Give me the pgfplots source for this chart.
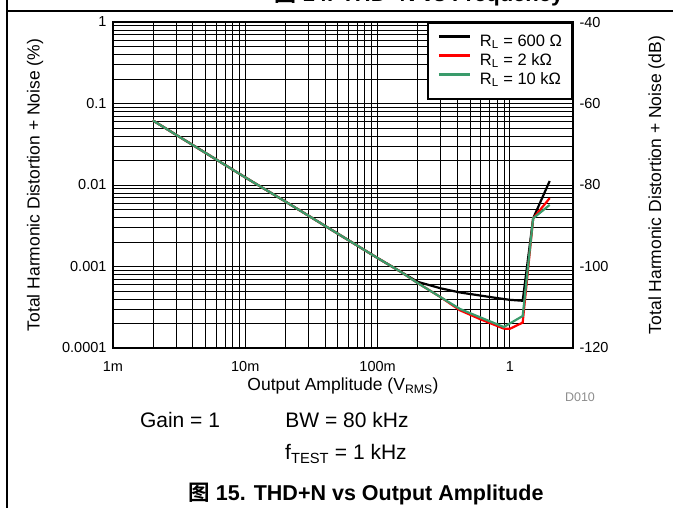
\documentclass[border=0pt]{standalone}
\usepackage{pgfplots}
\pgfplotsset{compat=1.18}
\usepackage{fontspec}
\setmainfont{Liberation Sans}
\newfontfamily\cjk{Noto Sans CJK SC}[BoldFont={Noto Sans CJK SC Bold}]
\definecolor{tigreen}{RGB}{58,155,107}
\definecolor{tired}{RGB}{255,0,0}

\pgfplotstableread{
x y
0.002 0.062
0.005 0.0248
0.01 0.0124
0.02 0.0063
0.05 0.00253
0.1 0.00127
0.15 0.00086
0.2 0.00065
0.3 0.00054
0.42 0.00048
0.6 0.00044
0.8 0.00041
1.0 0.00039
1.25 0.00038
1.5 0.0039
2.0 0.0112
}\blackdata
\pgfplotstableread{
x y
0.002 0.062
0.005 0.0248
0.01 0.0124
0.02 0.0063
0.05 0.00253
0.1 0.00127
0.15 0.00086
0.2 0.00063
0.3 0.00042
0.42 0.00029
0.6 0.000225
0.9 0.000173
1.0 0.000172
1.25 0.000205
1.5 0.0039
2.0 0.0069
}\reddata
\pgfplotstableread{
x y
0.002 0.062
0.005 0.0248
0.01 0.0124
0.02 0.0063
0.05 0.00253
0.1 0.00127
0.15 0.00086
0.2 0.00063
0.3 0.00042
0.42 0.000301
0.6 0.000237
0.9 0.000181
1.25 0.000247
1.5 0.0039
2.0 0.0057
}\greendata

\begin{document}
\begin{tikzpicture}
\useasboundingbox (0pt,0pt) rectangle (673pt,-508pt);
\draw[line width=1.5pt] (7pt,0pt) -- (7pt,-508pt);
\draw[line width=1.5pt] (7pt,-11pt) -- (673pt,-11pt);
\node[anchor=base, font=\fontsize{22}{24}\selectfont\bfseries, inner sep=0pt] at (419pt,-2pt) {{\cjk 图} 14. THD+N vs Frequency};

\begin{axis}[
  at={(113pt,-348pt)}, anchor=south west,
  width=460pt, height=326pt, scale only axis,
  xmode=log, ymode=log,
  xmin=0.001, xmax=3, ymin=0.0001, ymax=1,
  xtick={0.001,0.01,0.1,1}, xticklabels={1m,10m,100m,1},
  ytick={0.0001,0.001,0.01,0.1,1}, yticklabels={0.0001,0.001,0.01,0.1,1},
  grid=both,
  major grid style={black, line width=0.9pt},
  minor grid style={black, line width=0.55pt},
  axis line style={line width=2pt},
  major tick length=0pt, minor tick length=0pt,
  /pgf/number format/assume math mode=true,
  tick label style={font=\fontsize{14.5}{16}\selectfont},
  xticklabel style={yshift=-10pt},
  yticklabel style={xshift=-3pt},
  label style={font=\fontsize{17.5}{20}\selectfont},
  xlabel={Output Amplitude (V\textsubscript{RMS})},
  ylabel={Total Harmonic Distortion + Noise (\%)},
  xlabel style={at={(axis description cs:0.5,0)}, anchor=center, yshift=-38pt},
  ylabel style={yshift=12pt},
  legend style={at={(1,1)}, anchor=north east, draw=black, line width=2pt,
    font=\fontsize{16.5}{18}\selectfont, inner xsep=10pt, inner ysep=11pt,
    nodes={inner sep=0pt, text height=12pt, text depth=4pt},
    column sep=9pt, row sep=3pt, cells={anchor=west}, fill=white},
  legend image code/.code={\draw[#1] (0pt,5.5pt) -- (31pt,5.5pt);},
  legend cell align=left,
]
\addplot[black, line width=2.2pt] table[x=x,y=y] {\blackdata};
\addlegendentry{R\textsubscript{L} = 600 Ω}
\addplot[tired, line width=2.2pt] table[x=x,y=y] {\reddata};
\addlegendentry{R\textsubscript{L} = 2 kΩ}
\addplot[tigreen, line width=2.2pt] table[x=x,y=y] {\greendata};
\addlegendentry{R\textsubscript{L} = 10 kΩ}
\end{axis}

\begin{axis}[
  at={(113pt,-348pt)}, anchor=south west,
  width=460pt, height=326pt, scale only axis,
  xmin=0, xmax=1, ymin=-120, ymax=-40,
  axis x line=none, axis y line*=right,
  axis line style={line width=2pt},
  ytick={-120,-100,-80,-60,-40},
  major tick length=0pt,
  /pgf/number format/assume math mode=true,
  tick label style={font=\fontsize{14.5}{16}\selectfont},
  yticklabel style={xshift=3pt},
  label style={font=\fontsize{17.5}{20}\selectfont},
  ylabel={Total Harmonic Distortion + Noise (dB)},
  ylabel style={yshift=-33pt},
]
\end{axis}

\node[font=\fontsize{12.5}{14}\selectfont, text=black!45] at (580pt,-397pt) {D010};
\node[font=\fontsize{21}{24}\selectfont] at (180pt,-420pt) {Gain = 1};
\node[font=\fontsize{21}{24}\selectfont] at (347pt,-420pt) {BW = 80 kHz};
\node[font=\fontsize{21}{24}\selectfont] at (346pt,-454pt) {f\textsubscript{TEST} = 1 kHz};
\node[font=\fontsize{21.5}{24}\selectfont\bfseries] at (366pt,-494pt) {{\cjk 图} 15. THD+N vs Output Amplitude};
\end{tikzpicture}
\end{document}
